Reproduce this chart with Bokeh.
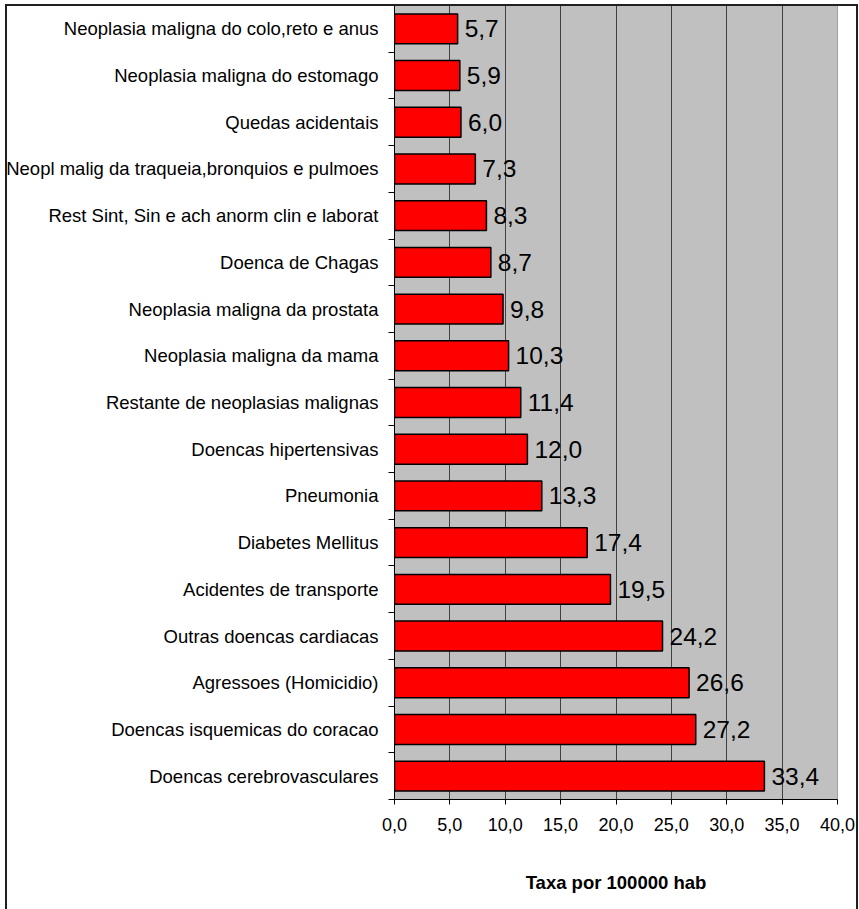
from bokeh.plotting import figure
from bokeh.models import FixedTicker, ColumnDataSource, Range1d, InlineStyleSheet
from bokeh.embed import file_html
from bokeh.resources import INLINE
from bokeh.core.properties import value

# Data (top to bottom as in the chart)
categories = [
    "Neoplasia maligna do colo,reto e anus",
    "Neoplasia maligna do estomago",
    "Quedas acidentais",
    "Neopl malig da traqueia,bronquios e pulmoes",
    "Rest Sint, Sin e ach anorm clin e laborat",
    "Doenca de Chagas",
    "Neoplasia maligna da prostata",
    "Neoplasia maligna da mama",
    "Restante de neoplasias malignas",
    "Doencas hipertensivas",
    "Pneumonia",
    "Diabetes Mellitus",
    "Acidentes de transporte",
    "Outras doencas cardiacas",
    "Agressoes (Homicidio)",
    "Doencas isquemicas do coracao",
    "Doencas cerebrovasculares",
]
rates = [5.7, 5.9, 6.0, 7.3, 8.3, 8.7, 9.8, 10.3, 11.4, 12.0, 13.3, 17.4, 19.5, 24.2, 26.6, 27.2, 33.4]
x_ticks = [0, 5, 10, 15, 20, 25, 30, 35, 40]
x_tick_labels = ["0,0", "5,0", "10,0", "15,0", "20,0", "25,0", "30,0", "35,0", "40,0"]
x_title = "Taxa por 100000 hab"

n = len(categories)
ypos = [n - 1 - i for i in range(n)]
labels = [f"{v:.1f}".replace(".", ",") for v in rates]

src = ColumnDataSource(dict(y=ypos, v=rates, lab=labels))

FONT = "Liberation Sans"

W, H = 859, 909
p = figure(width=W, height=H, output_backend="svg", toolbar_location=None,
           x_range=Range1d(0, 40), y_range=Range1d(-0.5, n - 0.5))

# outer chart border drawn over the canvas
border_css = InlineStyleSheet(css="""
:host { position: relative; }
:host::after {
  content: "";
  position: absolute;
  left: 5px; top: 4px;
  width: 853px; height: 905px;
  border: 2px solid #202020;
  border-bottom: none;
  box-sizing: border-box;
  z-index: 1000;
  pointer-events: none;
}
""")
p.stylesheets = [border_css]

p.min_border_left = 394
p.min_border_right = W - 837
p.min_border_top = 5
p.min_border_bottom = H - 799
p.background_fill_color = "#C0C0C0"
p.border_fill_color = "white"
p.outline_line_color = "#A0A0A0"
p.outline_line_width = 1

p.hbar(y="y", right="v", left=0, height=0.64, source=src,
       fill_color="#FF0000", line_color="#000000", line_width=1.5)
p.text(x="v", y="y", text="lab", source=src, x_offset=7,
       text_align="left", text_baseline="middle",
       text_font=value(FONT), text_font_size="24.5px", text_color="#000000")

# x axis
xa = p.xaxis[0]
xa.ticker = FixedTicker(ticks=x_ticks)
xa.major_label_overrides = {t: l for t, l in zip(x_ticks, x_tick_labels)}
xa.major_label_text_font = FONT
xa.major_label_text_font_size = "18px"
xa.major_label_text_color = "#000000"
xa.major_tick_in = 0
xa.major_tick_out = 5
xa.major_tick_line_color = "#000000"
xa.minor_tick_line_color = None
xa.axis_line_color = "#000000"
xa.major_label_standoff = 13
xa.axis_label = x_title
xa.axis_label_text_font = FONT
xa.axis_label_text_font_style = "bold"
xa.axis_label_text_font_size = "18.5px"
xa.axis_label_text_color = "#000000"
xa.axis_label_standoff = 38

# y axis
ya = p.yaxis[0]
ya.ticker = FixedTicker(ticks=ypos, minor_ticks=[k - 0.5 for k in range(n + 1)])
ya.major_label_overrides = {y: c for y, c in zip(ypos, categories)}
ya.major_label_text_font = FONT
ya.major_label_text_font_size = "18.5px"
ya.major_label_text_color = "#000000"
ya.major_tick_line_color = None
ya.major_tick_out = 0
ya.major_tick_in = 0
ya.minor_tick_line_color = "#000000"
ya.minor_tick_out = 6
ya.minor_tick_in = 0
ya.axis_line_color = "#000000"
ya.major_label_standoff = 10

p.xgrid.grid_line_color = "#404040"
p.xgrid.grid_line_width = 1
p.ygrid.grid_line_color = None

open("out.html", "w").write(file_html(p, INLINE))
